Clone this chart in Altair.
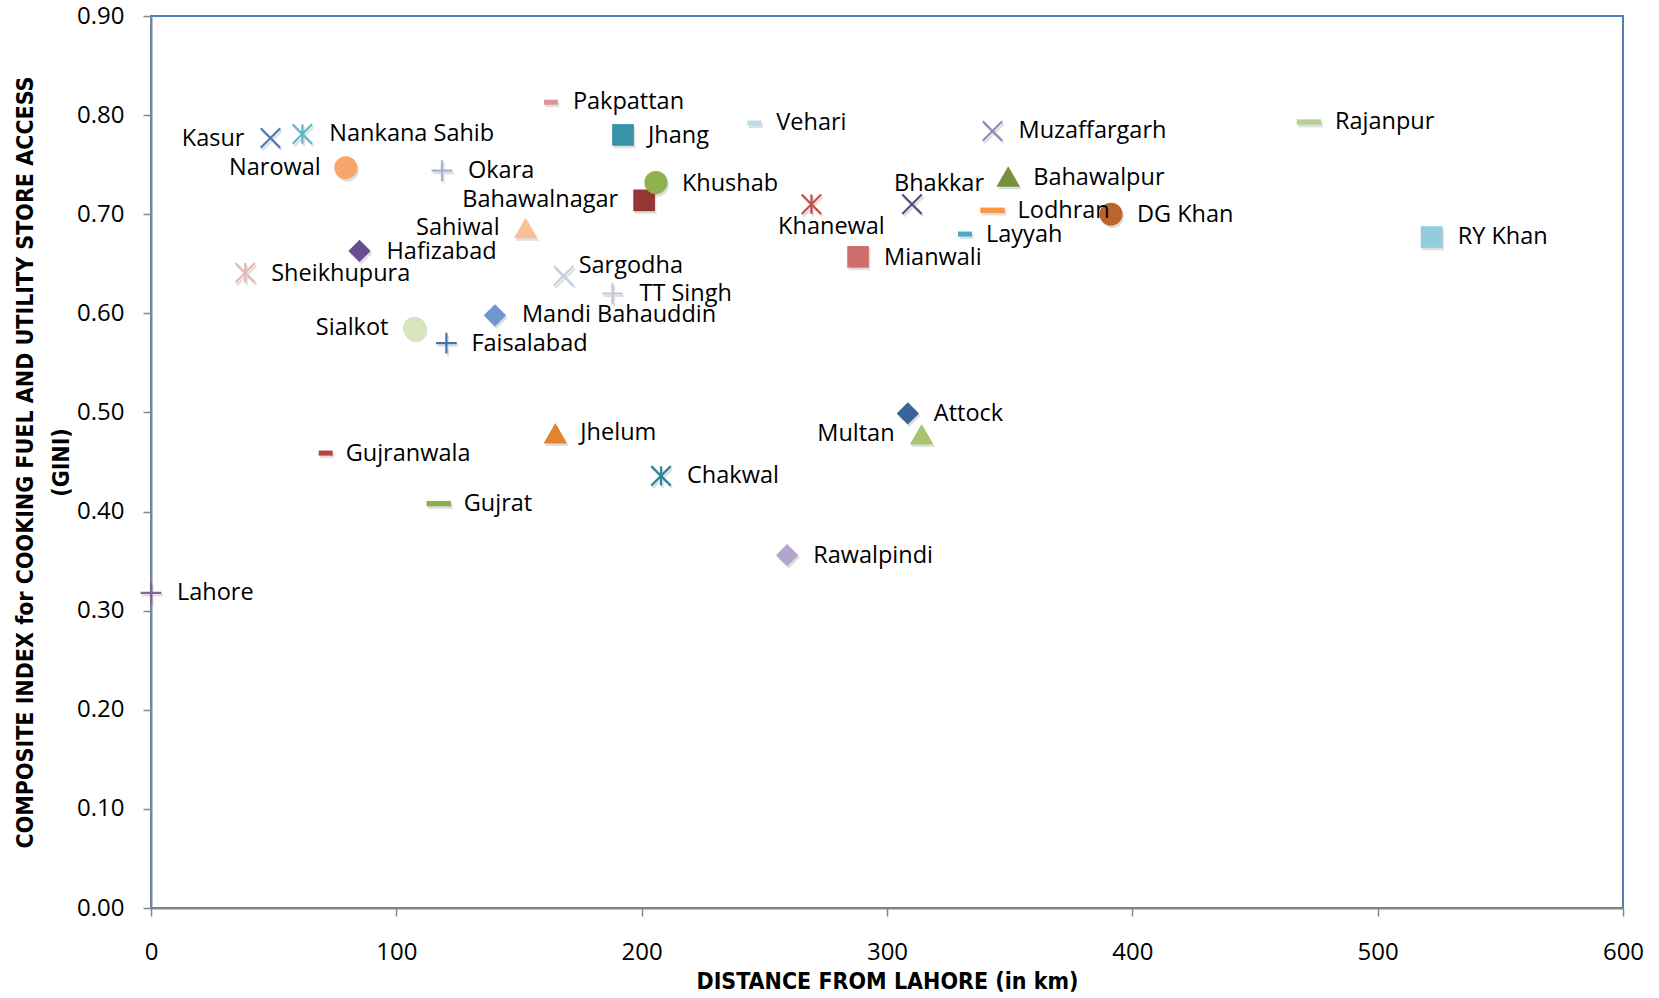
import altair as alt
import pandas as pd

# District-level composite index (GINI) against road distance from Lahore
districts = [
    "Attock", "Bahawalnagar", "Bahawalpur", "Bhakkar", "Chakwal", "DG Khan",
    "Faisalabad", "Gujranwala", "Gujrat", "Hafizabad", "Jhang", "Jhelum",
    "Kasur", "Khanewal", "Khushab", "Lahore", "Layyah", "Lodhran",
    "Mandi Bahauddin", "Mianwali", "Multan", "Muzaffargarh", "Nankana Sahib",
    "Narowal", "Okara", "Pakpattan", "Rajanpur", "Rawalpindi", "RY Khan",
    "Sahiwal", "Sargodha", "Sheikhupura", "Sialkot", "TT Singh", "Vehari",
]
distance_km = [
    308.5, 201.0, 349.4, 310.2, 207.9, 391.3,
    120.4, 71.2, 117.3, 85.0, 192.4, 164.8,
    48.7, 269.2, 205.8, 0.0, 331.8, 343.0,
    140.2, 288.2, 314.1, 343.0, 61.7,
    79.4, 118.6, 163.0, 472.0, 259.3, 522.0,
    152.7, 168.2, 38.4, 107.4, 188.1, 245.9,
]
gini_index = [
    0.499, 0.714, 0.738, 0.710, 0.436, 0.700,
    0.570, 0.459, 0.408, 0.663, 0.780, 0.479,
    0.777, 0.710, 0.732, 0.318, 0.680, 0.704,
    0.598, 0.657, 0.478, 0.784, 0.781,
    0.747, 0.744, 0.813, 0.793, 0.356, 0.677,
    0.686, 0.638, 0.641, 0.585, 0.620, 0.792,
]

# ---- styling -------------------------------------------------------------
series_colors = [
    "#3A6399", "#943634", "#76923C", "#5F497A", "#31859C", "#B9652C",
    "#4472B4", "#B8403D", "#8DB04F", "#6A4C94", "#3792AA", "#E3822F",
    "#4A78B8", "#C0504D", "#8DB24E", "#8064A2", "#4BACC6", "#F79646",
    "#7096CF", "#CF6F6D", "#A8C46E", "#9985B9", "#5DB8CD",
    "#F9A66A", "#9DB3DA", "#D99694", "#B6D094", "#B3A5CC", "#93CDDD",
    "#FAC09A", "#C5CEE5", "#E6B9B8", "#D7E4BD", "#CCC1DA", "#B7DEE8",
]

# automatic marker sequence, repeated over the series
marker_cycle = ["diamond", "square", "triangle", "x", "star", "circle",
                "plus", "dash_s", "dash_l"]
marker_shapes = {
    "diamond": ("diamond", True, 500),
    "square": ("square", True, 470),
    "triangle": ("triangle-up", True, 560),
    "circle": ("circle", True, 530),
    "x": ("M-1,-1L1,1M-1,1L1,-1", False, 380),
    "star": ("M-1,-1L1,1M-1,1L1,-1M0,-1L0,1", False, 380),
    "plus": ("M-1,0L1,0M0,-1L0,1", False, 430),
    "dash_s": ("M-1,-0.36L1,-0.36L1,0.36L-1,0.36Z", True, 196),
    "dash_l": ("M-1,-0.22L1,-0.22L1,0.22L-1,0.22Z", True, 600),
}

# label placement around each marker: (align, dx px, dy px)
label_place = {
    "Lahore": ("left", 26, 0), "Kasur": ("right", -26, 1),
    "Nankana Sahib": ("left", 27, 0), "Narowal": ("right", -25, 0),
    "Okara": ("left", 26, 0), "Pakpattan": ("left", 22, 0),
    "Jhang": ("left", 25, 1), "Khushab": ("left", 26, 1),
    "Bahawalnagar": ("right", -26, 0), "Sahiwal": ("right", -26, 0),
    "Hafizabad": ("left", 27, 1), "Sheikhupura": ("left", 26, 1),
    "Sargodha": ("left", 15, -10), "TT Singh": ("left", 27, 0),
    "Mandi Bahauddin": ("left", 27, 0), "Sialkot": ("right", -26, 0),
    "Faisalabad": ("left", 25, 1), "Gujranwala": ("left", 20, 1),
    "Gujrat": ("left", 25, 0), "Jhelum": ("left", 25, 0),
    "Chakwal": ("left", 26, 0), "Rawalpindi": ("left", 26, 1),
    "Attock": ("left", 26, 1), "Multan": ("right", -27, 0),
    "Vehari": ("left", 22, 0), "Khanewal": ("center", 20, 23),
    "Mianwali": ("left", 26, 1), "Bhakkar": ("center", 27, -20),
    "Muzaffargarh": ("left", 26, 0), "Bahawalpur": ("left", 25, 1),
    "Lodhran": ("left", 25, 1), "Layyah": ("left", 21, 1),
    "DG Khan": ("left", 26, 1), "Rajanpur": ("left", 26, 0),
    "RY Khan": ("left", 26, 0),
}

PLOT_W, PLOT_H = 1472, 892
X_MAX, Y_MAX = 600, 0.9

rows = []
for i, name in enumerate(districts):
    kind = marker_cycle[i % len(marker_cycle)]
    path, filled, size = marker_shapes[kind]
    align, ldx, ldy = label_place[name]
    rows.append({
        "district": name,
        "distance": distance_km[i],
        "gini": gini_index[i],
        "colour": series_colors[i],
        "shape": path,
        "filled": filled,
        "msize": size,
        "align": align,
        "ldx": ldx,
        "ldy": ldy,
    })
df = pd.DataFrame(rows)

x_scale = alt.Scale(domain=[0, X_MAX], nice=False, zero=False)
y_scale = alt.Scale(domain=[0, Y_MAX], nice=False, zero=False)

TITLE_FONT = "Liberation Sans Narrow, DejaVu Sans Condensed, Arial Narrow, sans-serif"
TEXT_FONT = "Open Sans"
AXIS_GREY = "#868686"

x_axis = alt.Axis(
    values=[0, 100, 200, 300, 400, 500, 600], format="d", grid=False,
    domainColor=AXIS_GREY, domainWidth=2, tickColor=AXIS_GREY, tickWidth=1.5,
    tickSize=8, labelFont=TEXT_FONT, labelFontSize=24, labelColor="#000000",
    labelPadding=24, labelFlush=False,
    title="DISTANCE FROM LAHORE (in km)", titleFont=TITLE_FONT, titleFontSize=23,
    titleFontWeight="bold", titleColor="#000000",
    titleX=PLOT_W / 2, titleY=73, titleBaseline="middle", titleAlign="center",
)
y_axis = alt.Axis(
    values=[0, 0.1, 0.2, 0.3, 0.4, 0.5, 0.6, 0.7, 0.8, 0.9], format=".2f",
    grid=False, domainColor=AXIS_GREY, domainWidth=2, tickColor=AXIS_GREY,
    tickWidth=1.5, tickSize=8, labelFont=TEXT_FONT, labelFontSize=24,
    labelColor="#000000", labelPadding=19, labelFlush=False,
    title=["COMPOSITE INDEX for COOKING FUEL AND UTILITY STORE ACCESS", "(GINI)"],
    titleFont=TITLE_FONT, titleFontSize=23, titleFontWeight="bold",
    titleColor="#000000", titleAngle=-90, titleLineHeight=36,
    titleX=-126, titleY=PLOT_H / 2, titleBaseline="middle", titleAlign="center",
)

base = alt.Chart(df)

xenc = alt.X("distance:Q", scale=x_scale, axis=x_axis)
yenc = alt.Y("gini:Q", scale=y_scale, axis=y_axis)

# soft drop shadow beneath each marker
shadow_fill = base.transform_filter("datum.filled").mark_point(
    filled=True, opacity=0.22, color="#6f6f6f", xOffset=1.5, yOffset=2.5
).encode(
    x=xenc, y=yenc,
    shape=alt.Shape("shape:N", scale=None),
    size=alt.Size("msize:Q", scale=None),
)
shadow_line = base.transform_filter("!datum.filled").mark_point(
    filled=False, opacity=0.22, color="#6f6f6f", strokeWidth=2.2,
    xOffset=1.5, yOffset=2.5
).encode(
    x=xenc, y=yenc,
    shape=alt.Shape("shape:N", scale=None),
    size=alt.Size("msize:Q", scale=None),
)

filled_marks = base.transform_filter("datum.filled").mark_point(
    filled=True, opacity=1
).encode(
    x=xenc, y=yenc,
    shape=alt.Shape("shape:N", scale=None),
    size=alt.Size("msize:Q", scale=None),
    color=alt.Color("colour:N", scale=None),
)
line_marks = base.transform_filter("!datum.filled").mark_point(
    filled=False, opacity=1, strokeWidth=2.2
).encode(
    x=xenc, y=yenc,
    shape=alt.Shape("shape:N", scale=None),
    size=alt.Size("msize:Q", scale=None),
    color=alt.Color("colour:N", scale=None),
)

# labels: marker value plus a pixel offset converted into data units
label_base = base.transform_calculate(
    lx=f"datum.distance + datum.ldx * {X_MAX} / {PLOT_W}",
    ly=f"datum.gini - datum.ldy * {Y_MAX} / {PLOT_H}",
)
label_layers = []
for align in ["left", "right", "center"]:
    label_layers.append(
        label_base.transform_filter(f"datum.align == '{align}'").mark_text(
            align=align, baseline="middle", font=TEXT_FONT, fontSize=23.5,
            color="#000000",
        ).encode(
            x=alt.X("lx:Q", scale=x_scale, axis=x_axis),
            y=alt.Y("ly:Q", scale=y_scale, axis=y_axis),
            text="district:N",
        )
    )

chart = alt.layer(
    shadow_fill, shadow_line, filled_marks, line_marks, *label_layers
).properties(
    width=PLOT_W, height=PLOT_H,
    autosize=alt.AutoSizeParams(type="none"),
    padding={"left": 151, "top": 16, "right": 36, "bottom": 90},
    background="#ffffff",
).configure_view(
    stroke="#4F81BD", strokeWidth=2,
)

chart.save("out.html", embed_options={"renderer": "svg", "actions": False})
